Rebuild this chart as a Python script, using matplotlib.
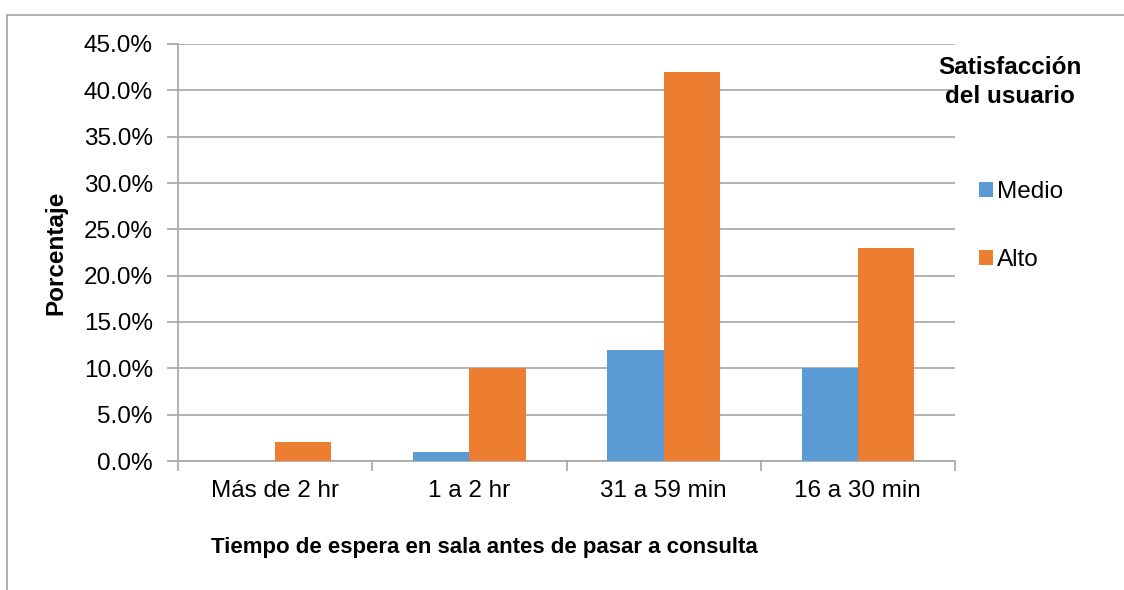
import numpy as np
import matplotlib.pyplot as plt
from matplotlib.lines import Line2D
from matplotlib.ticker import FuncFormatter

plt.rcParams['font.family'] = ['Liberation Sans', 'DejaVu Sans']

# data
categorias = ['Más de 2 hr', '1 a 2 hr', '31 a 59 min', '16 a 30 min']
medio = [0.0, 1.0, 12.0, 10.0]
alto = [2.0, 10.0, 42.0, 23.0]

azul = '#5B9BD5'
naranja = '#ED7D31'
gris = '#A6A6A6'

fig = plt.figure(figsize=(11.24, 5.9), dpi=100)
ax = fig.add_axes([178/1124, 1-461/590, 777/1124, 417/590])

x = np.arange(len(categorias))
w = 0.29
ax.bar(x - w/2, medio, w, color=azul, label='Medio', zorder=3)
ax.bar(x + w/2, alto, w, color=naranja, label='Alto', zorder=3)

ax.set_xlim(-0.5, len(categorias) - 0.5)
ax.set_ylim(0, 45)
ax.set_yticks(np.arange(0, 46, 5))
ax.yaxis.set_major_formatter(FuncFormatter(lambda v, p: f'{v:.1f}%'))
ax.grid(axis='y', color=gris, lw=1.2, zorder=0)

# category tick marks sit between groups
ax.set_xticks(x)
ax.set_xticklabels(categorias)
ax.set_xticks(np.arange(-0.5, len(categorias)), minor=True)
ax.tick_params(axis='x', which='major', length=0, pad=14, labelsize=17.5)
ax.tick_params(axis='x', which='minor', length=7, width=1.2, color=gris)
ax.tick_params(axis='y', length=8, width=1.2, color=gris, pad=10, labelsize=17.5)

for s in ['top', 'right']:
    ax.spines[s].set_visible(False)
for s in ['left', 'bottom']:
    ax.spines[s].set_color(gris)
    ax.spines[s].set_linewidth(1.2)

fig.text(484/1124, 1-548/590, 'Tiempo de espera en sala antes de pasar a consulta',
         ha='center', va='center', fontsize=16, fontweight='bold')
fig.text(56/1124, 1-253/590, 'Porcentaje', rotation=90,
         ha='center', va='center', fontsize=17.5, fontweight='bold')

# legend
fig.text(1010/1124, 1-82/590, 'Satisfacción\ndel usuario', ha='center', va='center',
         fontsize=17.5, fontweight='bold', linespacing=1.35)
fig.legend(loc='upper left', bbox_to_anchor=(967/1124, 1-169/590), frameon=False,
           fontsize=17.5, handlelength=0.58, handleheight=0.58, handletextpad=0.15,
           labelspacing=1.9, borderpad=0)

# chart frame (top and left edges visible)
fig.add_artist(Line2D([7/1124, 1], [1-15/590, 1-15/590], color=gris, lw=1.2))
fig.add_artist(Line2D([7/1124, 7/1124], [0, 1-15/590], color=gris, lw=1.2))

plt.savefig('out.png', dpi=100)
